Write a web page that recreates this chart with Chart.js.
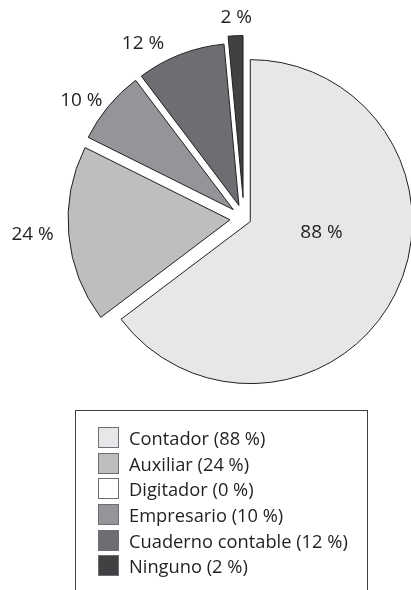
<!DOCTYPE html>
<html>
<head>
<meta charset="utf-8">
<script src="https://cdn.jsdelivr.net/npm/chart.js@4"></script>
<style>
    body { margin: 0; background: #fff; overflow: hidden; }
    #wrap { position: relative; width: 411px; height: 590px; }
    #legend {
        position: absolute;
        left: 75px;
        top: 410px;
        width: 293px;
        height: 200px;
        border: 1.5px solid #3f3f3f;
        border-bottom: none;
        box-sizing: border-box;
        padding: 14px 0 0 22px;
        font-family: 'Open Sans', sans-serif;
        font-size: 18.3px;
        color: #231f20;
    }
    .item { display: flex; align-items: center; height: 25.6px; }
    .swatch {
        width: 19px;
        height: 19px;
        border: 1px solid #6d6e71;
        margin-right: 10px;
        flex: none;
    }
</style>
</head>
<body>
<div id="wrap">
    <canvas id="pieChart" width="411" height="590"></canvas>
    <div id="legend"></div>
</div>
<script>
// Data
const categories = ['Contador', 'Auxiliar', 'Digitador', 'Empresario', 'Cuaderno contable', 'Ninguno'];
const values = [88, 24, 0, 10, 12, 2];

// Styles
const colors = ['#e6e7e8', '#bcbec0', '#ffffff', '#939598', '#6d6e71', '#414042'];
const explode = [7, 14, 0, 14, 14, 21];          // px pulled out along the slice middle
const labelDist = [72, 198, 0, 187, 188, 180];    // px from the slice tip
const labelTurn = [-18, 1, 0, -4, -9.5, 0.5];     // degrees added to the slice middle

/**
 * Move each slice out along its middle angle (no radius growth)
 */
const explodePlugin = {
    id: 'explodeSlices',
    afterDatasetUpdate(chart, args) {
        args.meta.data.forEach((arc, i) => {
            const mid = (arc.startAngle + arc.endAngle) / 2;
            arc.x += Math.cos(mid) * explode[i];
            arc.y += Math.sin(mid) * explode[i];
        });
    }
};

/**
 * Percentage labels next to each slice
 */
const labelPlugin = {
    id: 'sliceLabels',
    afterDatasetsDraw(chart) {
        const ctx = chart.ctx;
        const meta = chart.getDatasetMeta(0);
        ctx.save();
        ctx.font = '19px "Open Sans", sans-serif';
        ctx.fillStyle = '#231f20';
        ctx.textAlign = 'center';
        ctx.textBaseline = 'middle';
        meta.data.forEach((arc, i) => {
            if (!values[i]) return;
            const a = (arc.startAngle + arc.endAngle) / 2 + labelTurn[i] * Math.PI / 180;
            ctx.fillText(values[i] + ' %', arc.x + Math.cos(a) * labelDist[i], arc.y + Math.sin(a) * labelDist[i]);
        });
        ctx.restore();
    }
};

const ctx = document.getElementById('pieChart').getContext('2d');

new Chart(ctx, {
    type: 'pie',
    data: {
        labels: categories,
        datasets: [{
            data: values,
            backgroundColor: colors,
            borderColor: '#231f20',
            borderWidth: 1
        }]
    },
    options: {
        responsive: false,
        animation: false,
        radius: 162,
        layout: {
            padding: { left: 77, right: 0, top: 0, bottom: 153 }
        },
        plugins: {
            legend: { display: false },
            tooltip: { enabled: false }
        }
    },
    plugins: [explodePlugin, labelPlugin]
});

// Legend built from the same arrays
const legend = document.getElementById('legend');
categories.forEach((name, i) => {
    const row = document.createElement('div');
    row.className = 'item';
    const box = document.createElement('span');
    box.className = 'swatch';
    box.style.background = colors[i];
    const text = document.createElement('span');
    text.textContent = `${name} (${values[i]} %)`;
    row.appendChild(box);
    row.appendChild(text);
    legend.appendChild(row);
});
</script>
</body>
</html>
